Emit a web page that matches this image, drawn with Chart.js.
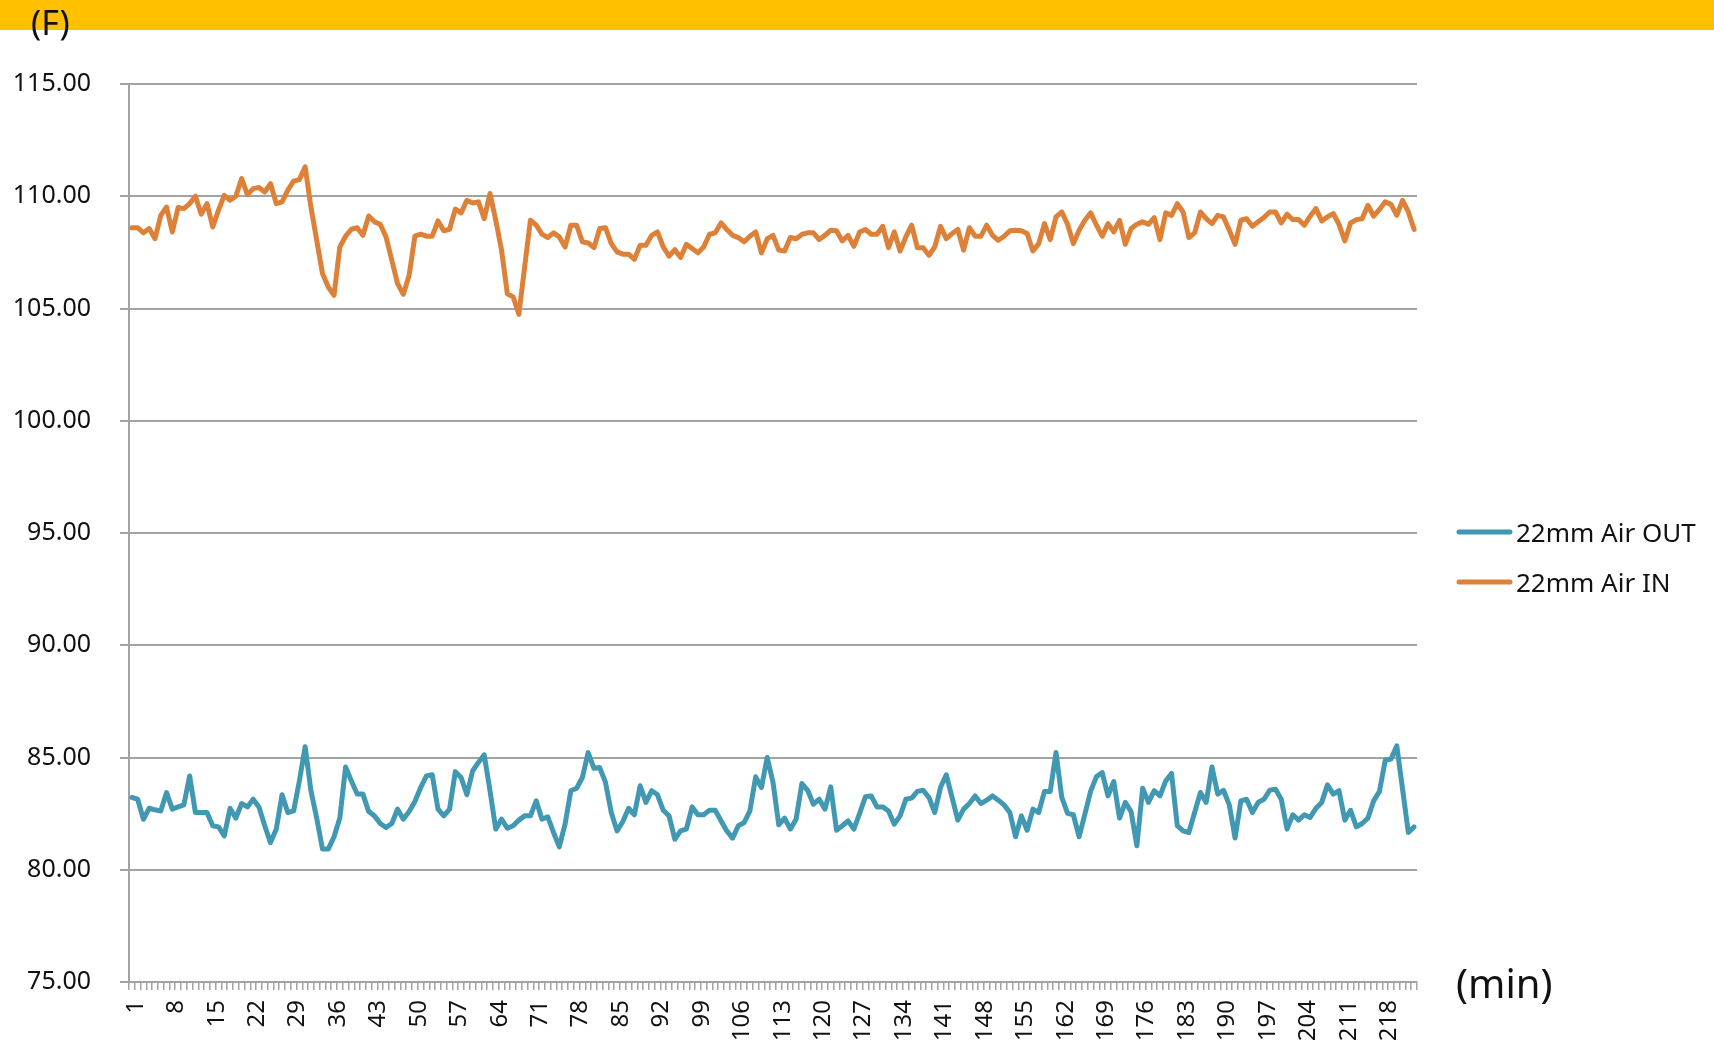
<!DOCTYPE html>
<html>
<head>
<meta charset="utf-8">
<script src="https://cdn.jsdelivr.net/npm/chart.js@4/dist/chart.umd.min.js"></script>
<style>
  html, body { margin: 0; padding: 0; background: #fff; }
  #tempChart { display: block; }
</style>
</head>
<body>
<canvas id="tempChart" width="1714" height="1044"></canvas>
<script>
// minutes 1..223
const categories = Array.from({ length: 223 }, (_, i) => String(i + 1));
const tickLabels = ['1', '8', '15', '22', '29', '36', '43', '50', '57', '64', '71', '78', '85', '92', '99', '106',
    '113', '120', '127', '134', '141', '148', '155', '162', '169', '176', '183', '190', '197', '204', '211', '218'];

// 22mm Air OUT (F)
const outValues = [
    83.22, 83.14, 82.25, 82.74, 82.67, 82.62, 83.44, 82.70, 82.80, 82.89,
    84.18, 82.55, 82.55, 82.55, 81.96, 81.91, 81.51, 82.74, 82.30, 82.95,
    82.80, 83.14, 82.80, 81.96, 81.21, 81.81, 83.34, 82.55, 82.62, 83.96,
    85.48, 83.52, 82.30, 80.92, 80.92, 81.47, 82.30, 84.58, 83.96, 83.37,
    83.37, 82.59, 82.40, 82.06, 81.88, 82.06, 82.70, 82.25, 82.59, 83.04,
    83.66, 84.18, 84.23, 82.70, 82.40, 82.70, 84.37, 84.11, 83.34, 84.41,
    84.78, 85.12, 83.52, 81.81, 82.25, 81.85, 81.96, 82.21, 82.40, 82.40,
    83.07, 82.25, 82.36, 81.66, 81.02, 82.03, 83.52, 83.63, 84.11, 85.22,
    84.52, 84.55, 83.89, 82.55, 81.73, 82.15, 82.74, 82.45, 83.74, 83.00,
    83.52, 83.34, 82.65, 82.40, 81.36, 81.73, 81.81, 82.80, 82.45, 82.45,
    82.65, 82.65, 82.18, 81.73, 81.41, 81.96, 82.10, 82.62, 84.14, 83.66,
    85.00, 83.90, 82.00, 82.30, 81.81, 82.25, 83.84, 83.54, 82.92, 83.14,
    82.70, 83.69, 81.76, 81.96, 82.18, 81.81, 82.51, 83.25, 83.29, 82.80,
    82.80, 82.62, 82.03, 82.40, 83.14, 83.19, 83.49, 83.54, 83.22, 82.55,
    83.66, 84.23, 83.22, 82.21, 82.70, 82.95, 83.29, 82.95, 83.10, 83.29,
    83.10, 82.89, 82.55, 81.47, 82.40, 81.76, 82.70, 82.55, 83.49, 83.49,
    85.22, 83.22, 82.51, 82.45, 81.47, 82.48, 83.50, 84.15, 84.33, 83.29,
    83.93, 82.30, 83.00, 82.59, 81.07, 83.63, 83.00, 83.52, 83.29, 83.96,
    84.29, 81.96, 81.73, 81.66, 82.55, 83.44, 83.00, 84.58, 83.37, 83.54,
    82.89, 81.41, 83.07, 83.14, 82.55, 83.00, 83.14, 83.54, 83.59, 83.14,
    81.81, 82.45, 82.21, 82.45, 82.33, 82.74, 83.00, 83.78, 83.37, 83.52,
    82.21, 82.65, 81.91, 82.06, 82.30, 83.07, 83.49, 84.88, 84.93, 85.52,
    83.59, 81.66, 81.91
];

// 22mm Air IN (F)
const inValues = [
    108.60, 108.60, 108.37, 108.56, 108.11, 109.15, 109.52, 108.41, 109.50, 109.45,
    109.67, 110.00, 109.20, 109.67, 108.63, 109.38, 110.04, 109.82, 110.00, 110.79,
    110.07, 110.34, 110.39, 110.19, 110.56, 109.67, 109.75, 110.27, 110.67, 110.74,
    111.31, 109.52, 108.04, 106.56, 105.96, 105.59, 107.74, 108.22, 108.53, 108.60,
    108.26, 109.12, 108.86, 108.75, 108.19, 107.15, 106.11, 105.63, 106.48, 108.22,
    108.31, 108.22, 108.22, 108.90, 108.46, 108.53, 109.43, 109.26, 109.82, 109.70,
    109.75, 109.00, 110.12, 108.93, 107.60, 105.66, 105.52, 104.74, 106.85, 108.93,
    108.71, 108.31, 108.16, 108.37, 108.19, 107.74, 108.71, 108.71, 107.97, 107.92,
    107.71, 108.56, 108.60, 107.89, 107.52, 107.42, 107.42, 107.19, 107.82, 107.82,
    108.26, 108.41, 107.74, 107.33, 107.62, 107.27, 107.86, 107.67, 107.48, 107.74,
    108.31, 108.37, 108.81, 108.52, 108.26, 108.16, 107.97, 108.22, 108.41, 107.48,
    108.11, 108.26, 107.60, 107.56, 108.16, 108.11, 108.30, 108.37, 108.37, 108.07,
    108.26, 108.49, 108.46, 108.01, 108.26, 107.77, 108.41, 108.52, 108.31, 108.31,
    108.66, 107.71, 108.41, 107.56, 108.19, 108.71, 107.71, 107.71, 107.37, 107.74,
    108.66, 108.11, 108.34, 108.52, 107.60, 108.60, 108.22, 108.22, 108.71, 108.26,
    108.04, 108.22, 108.46, 108.49, 108.46, 108.34, 107.56, 107.89, 108.78, 108.07,
    109.08, 109.30, 108.75, 107.89, 108.49, 108.93, 109.26, 108.71, 108.22, 108.78,
    108.41, 108.93, 107.86, 108.56, 108.75, 108.86, 108.75, 109.05, 108.07, 109.26,
    109.15, 109.67, 109.30, 108.16, 108.37, 109.30, 109.00, 108.78, 109.15, 109.08,
    108.49, 107.86, 108.93, 109.00, 108.66, 108.86, 109.05, 109.30, 109.30, 108.81,
    109.20, 108.96, 108.96, 108.71, 109.11, 109.45, 108.90, 109.08, 109.23, 108.75,
    108.01, 108.81, 108.96, 109.00, 109.60, 109.11, 109.41, 109.75, 109.64, 109.15,
    109.82, 109.30, 108.52
];

const FONT = "'Noto Sans', sans-serif";
const GRID = '#A3A3A3';
const TEXT = '#111';

// header band, unit labels and the legend on the right
const decorPlugin = {
    id: 'decor',
    beforeDraw(chart) {
        const c = chart.ctx;
        c.save();
        c.fillStyle = '#fff';
        c.fillRect(0, 0, chart.width, chart.height);
        c.fillStyle = '#FFC000';
        c.fillRect(0, 0, chart.width, 30);
        c.restore();
    },
    afterDraw(chart) {
        const c = chart.ctx;
        c.save();
        c.fillStyle = TEXT;
        c.textAlign = 'left';
        c.textBaseline = 'alphabetic';
        c.font = '34px ' + FONT;
        c.fillText('(F)', 31, 35);
        c.font = '40px ' + FONT;
        c.fillText('(min)', 1456, 998);

        // legend
        c.font = '26px ' + FONT;
        chart.data.datasets.forEach((ds, i) => {
            const y = 532 + i * 50;
            c.strokeStyle = ds.borderColor;
            c.lineWidth = 5;
            c.lineCap = 'round';
            c.beginPath();
            c.moveTo(1459, y);
            c.lineTo(1510, y);
            c.stroke();
            c.fillStyle = TEXT;
            c.fillText(ds.label, 1516, y + 10);
        });
        c.restore();
    }
};

const ctx = document.getElementById('tempChart').getContext('2d');
let tempChart = new Chart(ctx, {
    type: 'line',
    data: {
        labels: categories,
        datasets: [{
            label: '22mm Air OUT',
            data: outValues,
            borderColor: '#4198B2',
            borderWidth: 5,
            pointRadius: 0,
            tension: 0,
            borderJoinStyle: 'round',
            borderCapStyle: 'round'
        }, {
            label: '22mm Air IN',
            data: inValues,
            borderColor: '#DD8139',
            borderWidth: 5,
            pointRadius: 0,
            tension: 0,
            borderJoinStyle: 'round',
            borderCapStyle: 'round'
        }]
    },
    options: {
        responsive: false,
        animation: false,
        devicePixelRatio: 1,
        layout: { padding: { left: 0, top: 84, right: 297, bottom: 0 } },
        plugins: {
            legend: { display: false },
            tooltip: { enabled: false }
        },
        scales: {
            x: {
                type: 'category',
                offset: true,
                grid: {
                    display: true,
                    offset: true,
                    drawOnChartArea: false,
                    drawTicks: true,
                    tickLength: 8,
                    color: GRID,
                    lineWidth: 1.5
                },
                border: { display: true, color: GRID, width: 2 },
                ticks: {
                    autoSkip: false,
                    maxRotation: 90,
                    minRotation: 90,
                    padding: 10,
                    labelOffset: 4,
                    color: TEXT,
                    font: { family: FONT, size: 24 },
                    callback: function (value) {
                        const lbl = this.getLabelForValue(value);
                        return tickLabels.includes(lbl) ? lbl : '';
                    }
                },
                afterFit: (scale) => { scale.height = 62; }
            },
            y: {
                min: 75,
                max: 115,
                grid: {
                    color: GRID,
                    lineWidth: 2,
                    drawTicks: true,
                    tickLength: 9
                },
                border: { display: true, color: GRID, width: 2 },
                ticks: {
                    stepSize: 5,
                    padding: 29,
                    color: TEXT,
                    font: { family: FONT, size: 25 },
                    callback: (v) => v.toFixed(2)
                },
                afterFit: (scale) => { scale.width = 129; }
            }
        }
    },
    plugins: [decorPlugin]
});
</script>
</body>
</html>
